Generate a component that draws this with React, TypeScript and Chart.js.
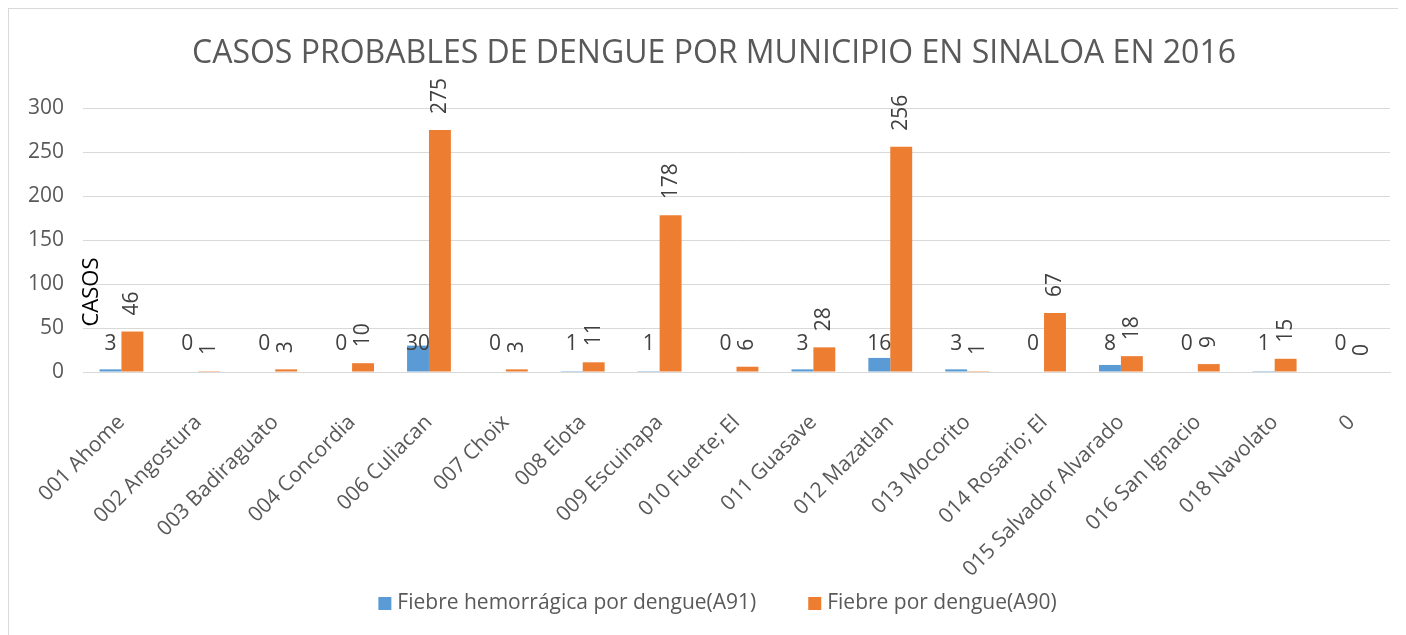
import React, { useEffect, useRef } from "react";
import { Chart, registerables } from "chart.js";

Chart.register(...registerables);

const categories = [
  "001 Ahome", "002 Angostura", "003 Badiraguato", "004 Concordia", "006 Culiacan",
  "007 Choix", "008 Elota", "009 Escuinapa", "010 Fuerte; El", "011 Guasave",
  "012 Mazatlan", "013 Mocorito", "014 Rosario; El", "015 Salvador Alvarado",
  "016 San Ignacio", "018 Navolato", "0",
];
const hemorragica = [3, 0, 0, 0, 30, 0, 1, 1, 0, 3, 16, 3, 0, 8, 0, 1, 0];
const fiebre = [46, 1, 3, 10, 275, 3, 11, 178, 6, 28, 256, 1, 67, 18, 9, 15, 0];
const seriesNames = ["Fiebre hemorrágica por dengue(A91)", "Fiebre por dengue(A90)"];
const seriesColors = ["#5B9BD5", "#ED7D31"];
const titleText = "CASOS PROBABLES DE DENGUE POR MUNICIPIO EN SINALOA EN 2016";
const yTitle = "CASOS";

const FONT = "'Open Sans', sans-serif";
const TEXT = "#595959";
const LABEL = "#404040";

const customPlugin = {
  id: "custom",
  afterDatasetsDraw(chart: any) {
    const ctx = chart.ctx;
    const y = chart.scales.y;
    const zero = y.getPixelForValue(0);
    ctx.save();
    // title
    ctx.font = `32px ${FONT}`;
    ctx.fillStyle = TEXT;
    ctx.textAlign = "center";
    ctx.textBaseline = "middle";
    ctx.fillText(titleText, 705, 45);

    ctx.font = `21px ${FONT}`;
    ctx.fillStyle = LABEL;
    // blue labels horizontal
    const m0 = chart.getDatasetMeta(0);
    m0.data.forEach((bar: any, i: number) => {
      ctx.textAlign = "center";
      ctx.textBaseline = "middle";
      ctx.fillText(String(hemorragica[i]), bar.x, zero - 28);
    });
    // orange labels rotated
    const m1 = chart.getDatasetMeta(1);
    m1.data.forEach((bar: any, i: number) => {
      ctx.save();
      ctx.translate(bar.x, bar.y - 16);
      ctx.rotate(-Math.PI / 2);
      ctx.textAlign = "left";
      ctx.textBaseline = "middle";
      ctx.fillText(String(fiebre[i]), 0, 0);
      ctx.restore();
    });
    // y axis title
    ctx.save();
    ctx.fillStyle = "#000000";
    ctx.font = `22px ${FONT}`;
    ctx.translate(chart.chartArea.left + 9, zero - 80);
    ctx.rotate(-Math.PI / 2);
    ctx.textAlign = "center";
    ctx.textBaseline = "middle";
    ctx.fillText(yTitle, 0, 0);
    ctx.restore();
    // legend
    ctx.font = `21px ${FONT}`;
    ctx.textBaseline = "middle";
    ctx.textAlign = "left";
    const w1 = ctx.measureText(seriesNames[0]).width;
    const w2 = ctx.measureText(seriesNames[1]).width;
    const box = 13, gap = 6, between = 52;
    const total = box + gap + w1 + between + box + gap + w2;
    let x = 708.5 - total / 2;
    const ly = 594;
    ctx.fillStyle = seriesColors[0];
    ctx.fillRect(x, ly - 6, box, box);
    ctx.fillStyle = TEXT;
    ctx.fillText(seriesNames[0], x + box + gap, ly);
    x += box + gap + w1 + between;
    ctx.fillStyle = seriesColors[1];
    ctx.fillRect(x, ly - 6, box, box);
    ctx.fillStyle = TEXT;
    ctx.fillText(seriesNames[1], x + box + gap, ly);
    ctx.restore();
  },
};

export default function App() {
  const ref = useRef<HTMLCanvasElement>(null);
  useEffect(() => {
    if (!ref.current) return;
    const chart = new Chart(ref.current, {
      type: "bar",
      data: {
        labels: categories,
        datasets: [
          { label: seriesNames[0], data: hemorragica, backgroundColor: seriesColors[0] },
          { label: seriesNames[1], data: fiebre, backgroundColor: seriesColors[1] },
        ],
      },
      options: {
        animation: false,
        responsive: false,
        layout: { padding: { left: 0, right: 9, top: 99, bottom: 50 } },
        datasets: { bar: { barPercentage: 1, categoryPercentage: 0.57 } },
        plugins: {
          legend: { display: false },
          tooltip: { enabled: false },
          title: { display: false },
        },
        scales: {
          x: {
            grid: { display: false, drawTicks: false },
            border: { color: "#d9d9d9" },
            ticks: {
              color: TEXT,
              font: { family: FONT, size: 21 },
              minRotation: 45,
              maxRotation: 45,
              autoSkip: false,
              padding: 38,
            },
            afterFit: (s: any) => {
              s.height = 212;
              s.paddingLeft = 0;
              s.paddingRight = 0;
            },
          },
          y: {
            min: 0,
            max: 300,
            grid: { color: "#d9d9d9", drawTicks: false },
            border: { display: false },
            ticks: {
              stepSize: 50,
              color: TEXT,
              font: { family: FONT, size: 21 },
              padding: 19,
            },
            afterFit: (s: any) => {
              s.width = 74;
              s.paddingTop = 0;
              s.paddingBottom = 0;
            },
          },
        },
      },
      plugins: [customPlugin],
    });
    return () => chart.destroy();
  }, []);
  return (
    <div style={{ width: 1392, height: 640, border: "1px solid #d9d9d9", boxSizing: "border-box" }}>
      <canvas ref={ref} width={1390} height={625} style={{ display: "block" }} />
    </div>
  );
}
